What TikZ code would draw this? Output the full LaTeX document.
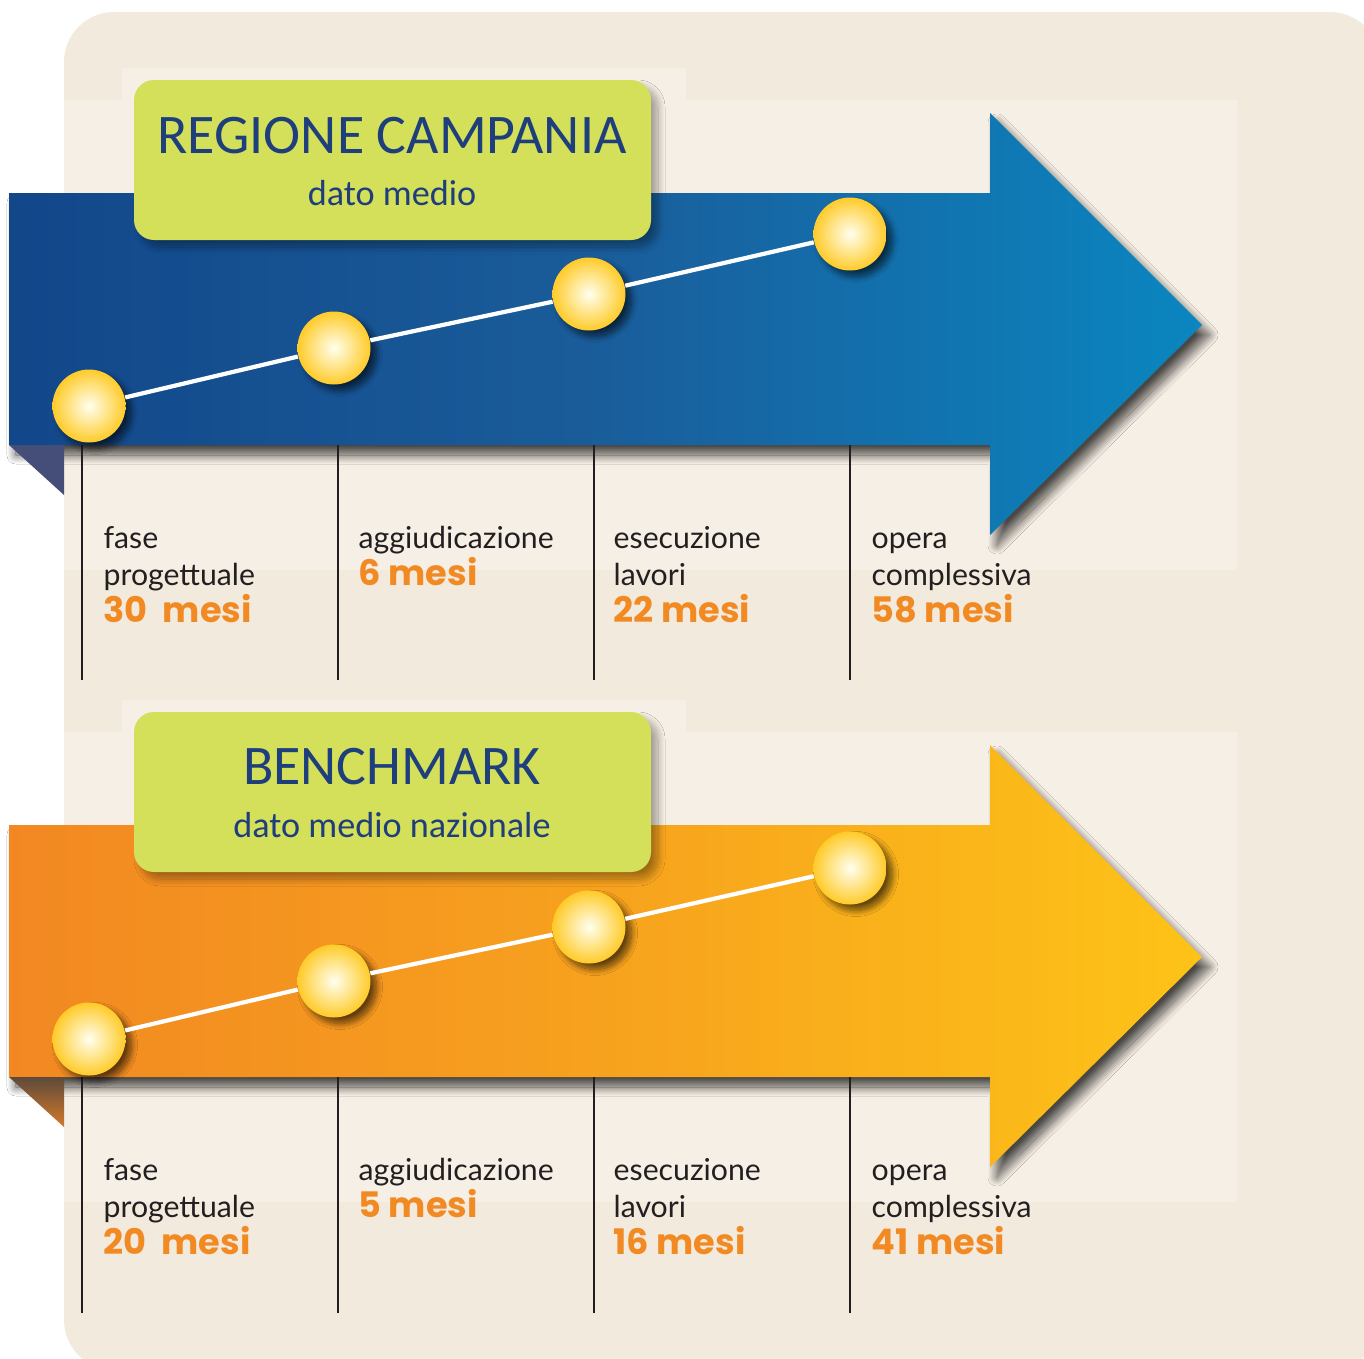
\documentclass[tikz,border=0pt]{standalone}
\usepackage{fontspec}
\setmainfont{Lato}
\newfontfamily\titolofont{Carlito}
\newfontfamily\mesifont{Poppins}
\usetikzlibrary{shadows.blur}

\definecolor{fondo}{HTML}{F3EADE}
\definecolor{fondochiaro}{HTML}{F6EFE5}
\definecolor{verde}{HTML}{D4E05A}
\definecolor{blutesto}{HTML}{1F3E7C}
\definecolor{arancio}{HTML}{F28A24}
\definecolor{grigio}{HTML}{231F20}
\definecolor{bluscuro}{HTML}{12478A}
\definecolor{blumedio}{HTML}{1A5D9B}
\definecolor{bluchiaro}{HTML}{0A86C0}
\definecolor{aranscuro}{HTML}{F28822}
\definecolor{aranmedio}{HTML}{F7A21E}
\definecolor{aranchiaro}{HTML}{FDC317}
\definecolor{oro}{HTML}{FFCB2A}

\newcommand{\durata}[1]{{\mesifont\bfseries\color{arancio}\fontsize{10}{10.46}\selectfont #1}}

\tikzset{
  freccia/.style={blur shadow={shadow xshift=0.7mm, shadow yshift=-1mm,
      shadow blur radius=0.9mm, shadow blur steps=24, shadow opacity=70}},
  riquadro/.style={fill=verde, rounded corners=2mm, minimum width=51.7mm,
      minimum height=16mm, inner sep=0pt,
      blur shadow={shadow xshift=0.7mm, shadow yshift=-0.7mm,
      shadow blur radius=0.7mm, shadow blur steps=16, shadow opacity=35}},
  titolo/.style={anchor=base, inner sep=0pt, text=blutesto,
      font=\titolofont\fontsize{15.9}{19}\selectfont},
  sottotitolo/.style={anchor=base, inner sep=0pt, text=blutesto,
      font=\titolofont\fontsize{10.3}{12}\selectfont},
  pallina/.style={circle, minimum size=7.3mm, inner sep=0pt,
      inner color=yellow!6!white, outer color=oro,
      blur shadow={shadow xshift=0.6mm, shadow yshift=-0.6mm,
      shadow blur radius=0.6mm, shadow blur steps=12, shadow opacity=60}},
  linea/.style={white, line width=1.2pt},
  tacca/.style={grigio, line width=0.6pt},
  voce/.style={anchor=base west, align=left, inner sep=0pt, text=grigio,
      font=\fontsize{8.6}{10.46}\selectfont}
}

\begin{document}
\begin{tikzpicture}[x=0.1mm, y=-0.1mm]
  \useasboundingbox (0,0) rectangle (1364,1358);
  \clip (0,0) rectangle (1364,1358);

  % Fondo
  \fill[white] (0,0) rectangle (1364,1358);
  \fill[fondo, rounded corners=5mm] (64,12) rectangle (1380,1370);
  \fill[fondochiaro] (122,68) rectangle (686,100);
  \fill[fondochiaro] (64,100) rectangle (1237,570);
  \fill[fondochiaro] (122,700) rectangle (686,732);
  \fill[fondochiaro] (64,732) rectangle (1237,1202);

  % Frecce
  \path[freccia, left color=bluscuro, right color=bluchiaro, middle color=blumedio]
    (9,193) -- (990,193) -- (990,113) -- (1202,325) -- (990,535)
    -- (990,445) -- (9,445) -- cycle;
  \fill[fill={rgb,255:red,68;green,78;blue,120}] (9,445) -- (64,445) -- (64,495) -- cycle;

  \path[freccia, left color=aranscuro, right color=aranchiaro, middle color=aranmedio]
    (9,825) -- (990,825) -- (990,745) -- (1202,957) -- (990,1167)
    -- (990,1077) -- (9,1077) -- cycle;
  \shade[top color={rgb,255:red,94;green,74;blue,58}, bottom color={rgb,255:red,212;green,122;blue,44}]
    (9,1077) -- (64,1077) -- (64,1127) -- cycle;

  % Tacche
  \coordinate (ta0) at (82,445);  \coordinate (fa0) at (82,680);
  \coordinate (ta1) at (338,445); \coordinate (fa1) at (338,680);
  \coordinate (ta2) at (594,445); \coordinate (fa2) at (594,680);
  \coordinate (ta3) at (850,445); \coordinate (fa3) at (850,680);
  \coordinate (tb0) at (82,1077);  \coordinate (fb0) at (82,1313);
  \coordinate (tb1) at (338,1077); \coordinate (fb1) at (338,1313);
  \coordinate (tb2) at (594,1077); \coordinate (fb2) at (594,1313);
  \coordinate (tb3) at (850,1077); \coordinate (fb3) at (850,1313);

  \draw[tacca] (ta0) -- (fa0);
  \draw[tacca] (ta1) -- (fa1);
  \draw[tacca] (ta2) -- (fa2);
  \draw[tacca] (ta3) -- (fa3);
  \draw[tacca] (tb0) -- (fb0);
  \draw[tacca] (tb1) -- (fb1);
  \draw[tacca] (tb2) -- (fb2);
  \draw[tacca] (tb3) -- (fb3);

  % Riquadri
  \node[riquadro] (ra) at (392.5,160) {};
  \node[titolo] (tia) at (392,153) {REGIONE CAMPANIA};
  \node[sottotitolo] (sta) at (392,205) {dato medio};

  \node[riquadro] (rb) at (392.5,792) {};
  \node[titolo] (tib) at (392,784) {BENCHMARK};
  \node[sottotitolo] (stb) at (392,837) {dato medio nazionale};

  % Nodi
  \node[pallina] (a0) at (89,406) {};
  \node[pallina] (a1) at (334,348) {};
  \node[pallina] (a2) at (589,294) {};
  \node[pallina] (a3) at (850,234) {};

  \node[pallina] (b0) at (89,1039) {};
  \node[pallina] (b1) at (334,981) {};
  \node[pallina] (b2) at (589,927) {};
  \node[pallina] (b3) at (850,868) {};

  \draw[linea] (a0) -- (a1);
  \draw[linea] (a1) -- (a2);
  \draw[linea] (a2) -- (a3);
  \draw[linea] (b0) -- (b1);
  \draw[linea] (b1) -- (b2);
  \draw[linea] (b2) -- (b3);

  % Voci
  \node[voce] (la0) at (103,622.5) {fase\\progettuale\\\durata{30~~mesi}};
  \node[voce] (la1) at (358,585.5) {aggiudicazione\\\durata{6 mesi}};
  \node[voce] (la2) at (613,622.5) {esecuzione\\lavori\\\durata{22 mesi}};
  \node[voce] (la3) at (871,622.5) {opera\\complessiva\\\durata{58 mesi}};

  \node[voce] (lb0) at (103,1254.5) {fase\\progettuale\\\durata{20~~mesi}};
  \node[voce] (lb1) at (358,1217.5) {aggiudicazione\\\durata{5 mesi}};
  \node[voce] (lb2) at (613,1254.5) {esecuzione\\lavori\\\durata{16 mesi}};
  \node[voce] (lb3) at (871,1254.5) {opera\\complessiva\\\durata{41 mesi}};
\end{tikzpicture}
\end{document}
